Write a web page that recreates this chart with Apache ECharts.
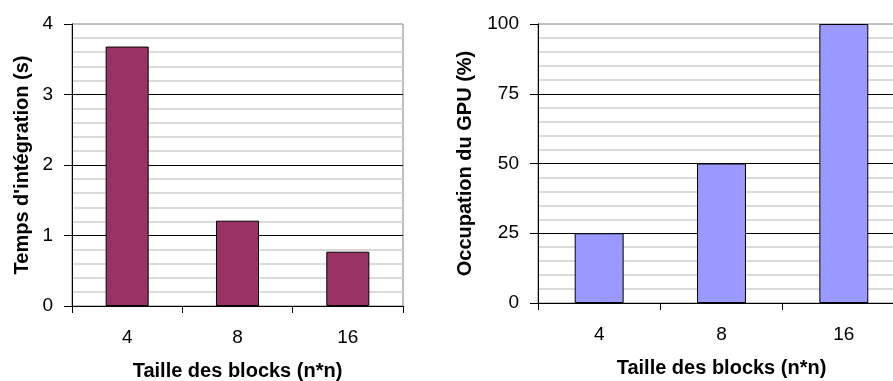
<!DOCTYPE html>
<html>
<head>
<meta charset="utf-8">
<script src="https://cdn.jsdelivr.net/npm/echarts@6/dist/echarts.min.js"></script>
<style>
html,body{margin:0;padding:0;background:#fff;}
#main{width:893px;height:381px;}
</style>
</head>
<body>
<div id="main"></div>
<script>
var categories = ['4', '8', '16'];
var tempsValues = [3.68, 1.21, 0.77];
var occupationValues = [25, 50, 100];
var xAxisTitle = 'Taille des blocks (n*n)';
var yTitleTemps = "Temps d'intégration (s)";
var yTitleOccupation = 'Occupation du GPU (%)';

var FONT = '"Liberation Sans", Arial, sans-serif';
var chart = echarts.init(document.getElementById('main'), null, {renderer: 'canvas'});

function xAxisCfg(gridIndex, gap, margin) {
  return {
    type: 'category', gridIndex: gridIndex, data: categories,
    boundaryGap: true,
    axisLine: {lineStyle: {color: '#000', width: 1}},
    axisTick: {show: true, length: 7, alignWithLabel: false, lineStyle: {color: '#000'}},
    axisLabel: {color: '#000', fontSize: 19, fontFamily: FONT, margin: margin},
    name: xAxisTitle, nameLocation: 'middle', nameGap: gap,
    nameTextStyle: {color: '#000', fontSize: 20, fontWeight: 'bold', fontFamily: FONT}
  };
}
function yAxisCfg(gridIndex, max, interval, title, gap) {
  return {
    type: 'value', gridIndex: gridIndex, min: 0, max: max, interval: interval,
    axisLine: {show: true, lineStyle: {color: '#000', width: 1}},
    axisTick: {show: true, length: 8, lineStyle: {color: '#000'}},
    axisLabel: {color: '#000', fontSize: 19, fontFamily: FONT, margin: 19},
    splitLine: {show: true, showMaxLine: false, lineStyle: {color: '#000', width: 1}},
    minorTick: {show: false, splitNumber: 5},
    minorSplitLine: {show: true, lineStyle: {color: '#d0d0d0', width: 1.5}},
    name: title, nameLocation: 'middle', nameGap: gap,
    nameTextStyle: {color: '#000', fontSize: 20, fontWeight: 'bold', fontFamily: FONT}
  };
}

chart.setOption({
  animation: false,
  backgroundColor: '#fff',
  grid: [
    {left: 72, top: 24, width: 331, height: 282, outerBoundsMode: 'none', containLabel: false, show: true, borderColor: '#808080', borderWidth: 1, backgroundColor: '#fff'},
    {left: 538, top: 24, width: 367, height: 279, outerBoundsMode: 'none', containLabel: false, show: true, borderColor: '#808080', borderWidth: 1, backgroundColor: '#fff'}
  ],
  xAxis: [xAxisCfg(0, 55, 22), xAxisCfg(1, 55, 22)],
  yAxis: [yAxisCfg(0, 4, 1, yTitleTemps, 40), yAxisCfg(1, 100, 25, yTitleOccupation, 63)],
  series: [
    {type: 'bar', xAxisIndex: 0, yAxisIndex: 0, data: tempsValues, barWidth: '39%',
     itemStyle: {color: '#993366', borderColor: '#000', borderWidth: 1}},
    {type: 'bar', xAxisIndex: 1, yAxisIndex: 1, data: occupationValues, barWidth: '40%',
     itemStyle: {color: '#9999ff', borderColor: '#000', borderWidth: 1}}
  ]
});
</script>
</body>
</html>
